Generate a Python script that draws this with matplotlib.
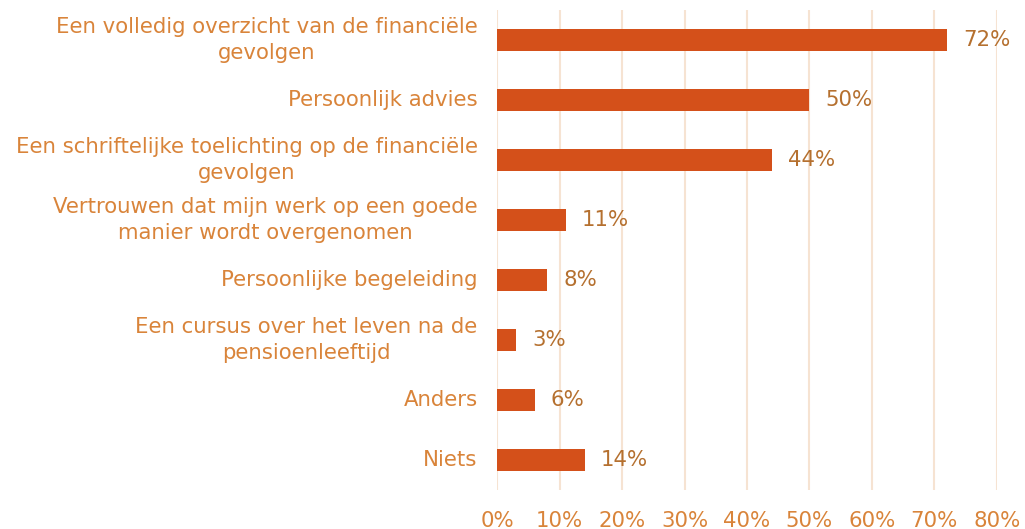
import matplotlib.pyplot as plt
from matplotlib.ticker import PercentFormatter

categories = [
    "Een volledig overzicht van de financiële\ngevolgen",
    "Persoonlijk advies",
    "Een schriftelijke toelichting op de financiële\ngevolgen",
    "Vertrouwen dat mijn werk op een goede\nmanier wordt overgenomen",
    "Persoonlijke begeleiding",
    "Een cursus over het leven na de\npensioenleeftijd",
    "Anders",
    "Niets",
]
values = [72, 50, 44, 11, 8, 3, 6, 14]
xticks = [0, 10, 20, 30, 40, 50, 60, 70, 80]

BAR = "#D4501A"
LABEL = "#D9843A"
VALUE = "#B5702F"
GRID = "#F6E3D2"
FS = 15.3

plt.rcParams["font.family"] = ["DejaVu Sans"]

fig = plt.figure(figsize=(10.25, 5.29), dpi=100)
ax = fig.add_axes([0.485, 0.074, 0.4875, 0.907])

y = list(range(len(categories)))
ax.barh(y, values, height=0.37, color=BAR, zorder=3)
for yi, v in zip(y, values):
    ax.text(v + 2.6, yi, f"{v}%", va="center", ha="left", fontsize=FS, color=VALUE)

ax.set_yticks(y)
ax.set_yticklabels(categories, fontsize=FS, color=LABEL, linespacing=1.4,
                   multialignment="center", va="center")
ax.set_ylim(7.5, -0.5)

ax.set_xlim(0, 80)
ax.set_xticks(xticks)
ax.xaxis.set_major_formatter(PercentFormatter(decimals=0))
ax.tick_params(axis="x", labelsize=FS, labelcolor=LABEL, length=0, pad=15)
ax.tick_params(axis="y", length=0, pad=14)
ax.grid(axis="x", color=GRID, linewidth=1.5, zorder=0)
for s in ax.spines.values():
    s.set_visible(False)

fig.savefig("out.png", dpi=100)
